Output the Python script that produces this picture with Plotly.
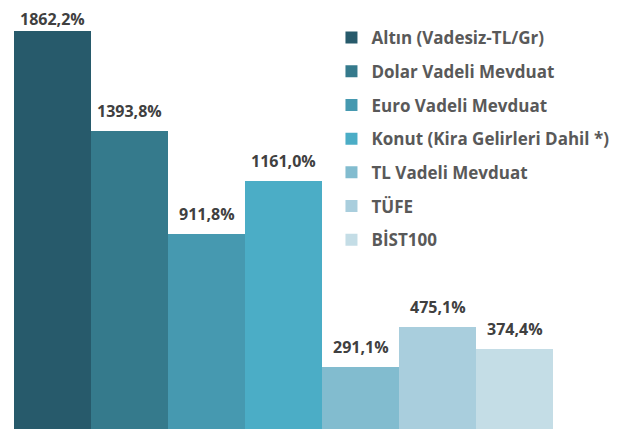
import plotly.graph_objects as go

categories = ["Altın (Vadesiz-TL/Gr)", "Dolar Vadeli Mevduat", "Euro Vadeli Mevduat",
              "Konut (Kira Gelirleri Dahil *)", "TL Vadeli Mevduat", "TÜFE", "BİST100"]
values = [1862.2, 1393.8, 911.8, 1161.0, 291.1, 475.1, 374.4]
labels = ["1862,2%", "1393,8%", "911,8%", "1161,0%", "291,1%", "475,1%", "374,4%"]
colors = ["#275A6B", "#357A8C", "#4699B0", "#4BADC6", "#82BCCF", "#A9CEDD", "#C4DDE6"]

fig = go.Figure()
for i, (c, v, col) in enumerate(zip(categories, values, colors)):
    fig.add_trace(go.Bar(
        x=[c], y=[v], name=c,
        marker=dict(color=col, line=dict(width=0)),
        legendgroup=str(i), width=1, hoverinfo="skip",
    ))

vmax = max(values)
for c, v, t in zip(categories, values, labels):
    fig.add_annotation(x=c, y=v, text=t, showarrow=False, yanchor="bottom",
                       yshift=0 if v == vmax else 8, borderpad=0,
                       font=dict(family="Open Sans", size=16, color="#404040",
                                 weight="bold"))

fig.update_layout(
    width=617, height=426,
    margin=dict(l=6, r=72, t=0, b=5, autoexpand=False),
    barmode="overlay", bargap=0,
    plot_bgcolor="white", paper_bgcolor="white",
    font=dict(family="Open Sans", color="#595959"),
    xaxis=dict(visible=False, categoryorder="array", categoryarray=categories,
               range=[-0.5, 6.5]),
    yaxis=dict(visible=False, range=[0, 1970]),
    showlegend=True,
    legend=dict(x=0.589, y=0.9715, xanchor="left", yanchor="top",
                font=dict(family="Open Sans", size=17, color="#595959", weight="bold"),
                tracegroupgap=8.6, bgcolor="rgba(0,0,0,0)", itemwidth=30),
)
fig.write_html("out.html")
